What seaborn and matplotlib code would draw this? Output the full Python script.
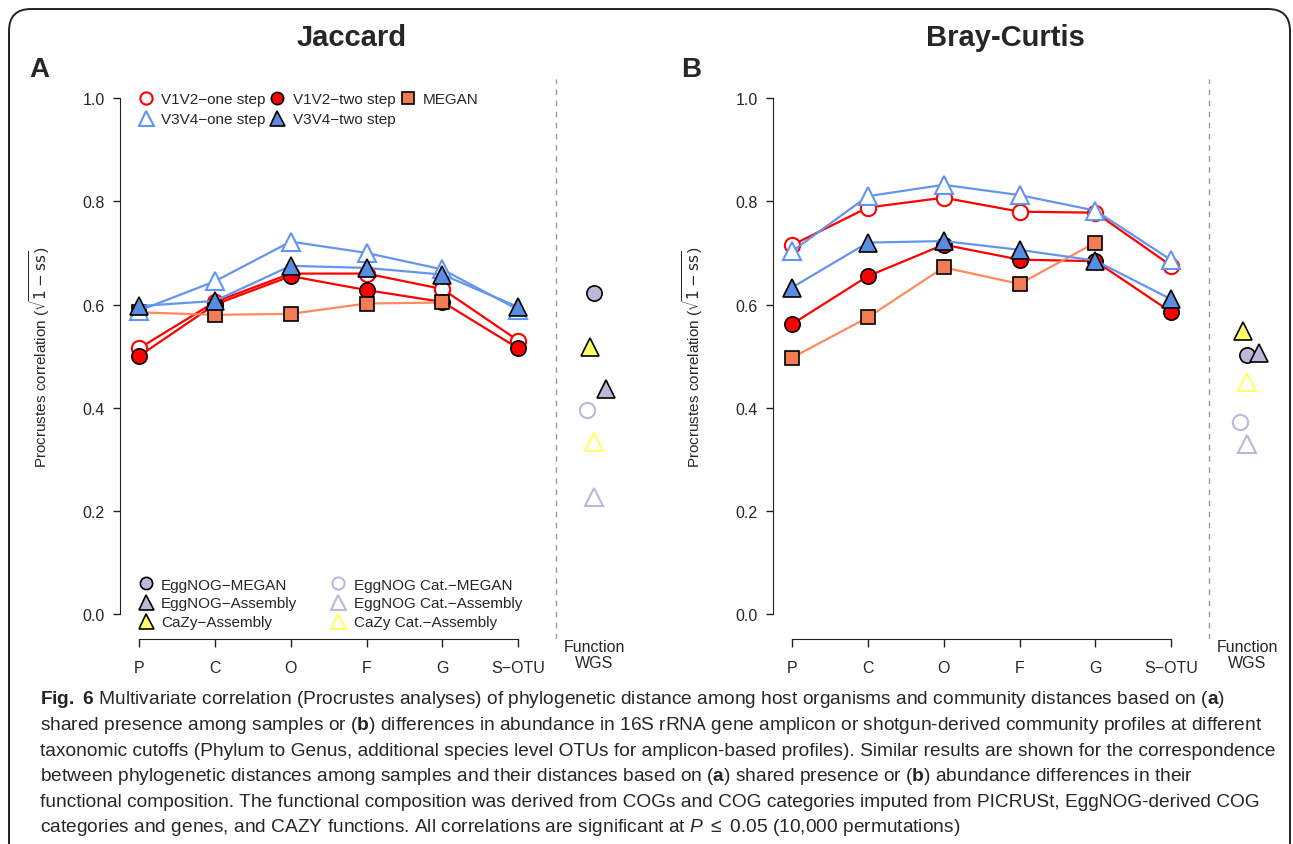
import numpy as np
import matplotlib
matplotlib.use('Agg')
import matplotlib.pyplot as plt
import seaborn as sns
from matplotlib.lines import Line2D
from matplotlib.patches import FancyBboxPatch
from matplotlib import font_manager

# taxonomic levels
levels = ['P', 'C', 'O', 'F', 'G', 'S\u2212OTU']

# Jaccard (panel A)
jac_v12_one = [0.515, 0.605, 0.660, 0.660, 0.630, 0.530]
jac_v12_two = [0.500, 0.600, 0.655, 0.628, 0.605, 0.515]
jac_megan = [0.585, 0.580, 0.582, 0.602, 0.604]
jac_v34_one = [0.588, 0.645, 0.722, 0.700, 0.668, 0.590]
jac_v34_two = [0.597, 0.607, 0.675, 0.671, 0.658, 0.595]

# Bray-Curtis (panel B)
bc_v12_one = [0.715, 0.788, 0.807, 0.780, 0.778, 0.675]
bc_v12_two = [0.562, 0.655, 0.716, 0.687, 0.684, 0.585]
bc_megan = [0.497, 0.575, 0.672, 0.640, 0.720]
bc_v34_one = [0.703, 0.810, 0.832, 0.812, 0.782, 0.686]
bc_v34_two = [0.633, 0.720, 0.723, 0.706, 0.685, 0.610]

# functional (WGS) correlations
func_names = ['EggNOG\u2212MEGAN', 'EggNOG\u2212Assembly', 'CaZy\u2212Assembly',
              'EggNOG Cat.\u2212MEGAN', 'EggNOG Cat.\u2212Assembly', 'CaZy Cat.\u2212Assembly']
jac_func = [0.622, 0.437, 0.517, 0.396, 0.228, 0.334]
bc_func = [0.503, 0.507, 0.549, 0.372, 0.330, 0.450]

caption = [
    r"$\mathbf{Fig.}$ $\mathbf{6}$ Multivariate correlation (Procrustes analyses) of phylogenetic distance among host organisms and community distances based on ($\mathbf{a}$)",
    r"shared presence among samples or ($\mathbf{b}$) differences in abundance in 16S rRNA gene amplicon or shotgun-derived community profiles at different",
    r"taxonomic cutoffs (Phylum to Genus, additional species level OTUs for amplicon-based profiles). Similar results are shown for the correspondence",
    r"between phylogenetic distances among samples and their distances based on ($\mathbf{a}$) shared presence or ($\mathbf{b}$) abundance differences in their",
    r"functional composition. The functional composition was derived from COGs and COG categories imputed from PICRUSt, EggNOG-derived COG",
    r"categories and genes, and CAZY functions. All correlations are significant at $P$ $\leq$ 0.05 (10,000 permutations)",
]

RED = '#FF0000'
BLUE = '#6495ED'
BLUE_F = '#5A8CE0'
CORAL = '#FF8A5C'
CORAL_F = '#F47C55'
LAV = '#BCB8D8'
YEL = '#FFFF66'

sns.set_style('ticks')
plt.rcParams['font.family'] = ['Liberation Sans', 'DejaVu Sans']
names = {f.name for f in font_manager.fontManager.ttflist}
cap_font = 'Liberation Sans Narrow' if 'Liberation Sans Narrow' in names else 'Liberation Sans'
plt.rcParams['mathtext.fontset'] = 'custom'
plt.rcParams['mathtext.rm'] = cap_font
plt.rcParams['mathtext.it'] = cap_font + ':italic'
plt.rcParams['mathtext.bf'] = cap_font + ':bold'

W, H = 1293, 845
fig = plt.figure(figsize=(W / 100, H / 100), dpi=100)

# rounded border
border = FancyBboxPatch((0.09, -0.3), 12.81, 8.35 + 0.3,
                        boxstyle='round,pad=0,rounding_size=0.22',
                        transform=fig.dpi_scale_trans, fill=False,
                        lw=1.4, ec='#222222')
fig.patches.append(border)

series_style = [
    dict(color=RED, marker='o', mfc='white', mec=RED, mew=1.5, ms=11, label='V1V2\u2212one step'),
    dict(color=RED, marker='o', mfc=RED, mec='black', mew=1.2, ms=11, label='V1V2\u2212two step'),
    dict(color=CORAL, marker='s', mfc=CORAL_F, mec='black', mew=1.2, ms=10, label='MEGAN'),
    dict(color=BLUE, marker='^', mfc='white', mec=BLUE, mew=1.5, ms=13.5, label='V3V4\u2212one step'),
    dict(color=BLUE, marker='^', mfc=BLUE_F, mec='black', mew=1.2, ms=13.5, label='V3V4\u2212two step'),
]
func_style = [
    dict(marker='o', mfc=LAV, mec='black', mew=1.2, ms=11),
    dict(marker='^', mfc=LAV, mec='black', mew=1.2, ms=13.5),
    dict(marker='^', mfc=YEL, mec='black', mew=1.2, ms=13.5),
    dict(marker='o', mfc='none', mec=LAV, mew=1.5, ms=11),
    dict(marker='^', mfc='none', mec=LAV, mew=1.5, ms=13.5),
    dict(marker='^', mfc='none', mec=YEL, mew=1.5, ms=13.5),
]
jit_a = [0.0, 0.15, -0.05, -0.10, 0.0, 0.0]
jit_b = [0.0, 0.15, -0.05, -0.10, 0.0, 0.0]


def panel(ax, series, func, jit, title, letter, tx, lx):
    xs = np.arange(len(levels))
    for vals, st in zip(series, series_style):
        st = dict(st)
        st.pop('label')
        sns.lineplot(x=xs[:len(vals)], y=vals, ax=ax, color=st.pop('color'),
                     linewidth=1.6, markersize=st.pop('ms'), markerfacecolor=st.pop('mfc'),
                     markeredgecolor=st.pop('mec'), markeredgewidth=st.pop('mew'),
                     marker=st.pop('marker'), legend=False, clip_on=False)
    wx = len(levels)
    for v, j, st in zip(func, jit, func_style):
        sns.lineplot(x=[wx + j], y=[v], ax=ax, linestyle='none', marker=st['marker'],
                     markersize=st['ms'], markerfacecolor=st['mfc'],
                     markeredgecolor=st['mec'], markeredgewidth=st['mew'],
                     legend=False, clip_on=False)
    ax.axvline(len(levels) - 0.5, color='#999999', ls=(0, (4, 4)), lw=1)
    ax.set_xlim(-0.25, 6.3)
    ax.set_ylim(-0.048, 1.037)
    for s in ['top', 'right']:
        ax.spines[s].set_visible(False)
    ax.spines['left'].set_bounds(0, 1)
    ax.spines['bottom'].set_bounds(0, len(levels) - 1)
    ax.spines['left'].set_color('#222222')
    ax.spines['bottom'].set_color('#222222')
    ax.set_yticks([0, 0.2, 0.4, 0.6, 0.8, 1.0])
    ax.set_yticklabels(['0.0', '0.2', '0.4', '0.6', '0.8', '1.0'])
    ax.set_xticks(xs)
    ax.set_xticklabels(levels)
    ax.tick_params(axis='y', length=5, width=1, pad=6, labelsize=11.5, color='#222222')
    ax.tick_params(axis='x', length=6, width=1, pad=9, labelsize=11.5, color='#222222')
    ax.text(wx, -0.078, 'Function\nWGS', ha='center', va='center', fontsize=11.5,
            linespacing=1.05, clip_on=False)
    ax.set_xlabel('')
    ax.set_ylabel(r'Procrustes correlation ($\sqrt{1-\mathrm{ss}}$)', fontsize=11,
                  math_fontfamily='dejavusans')
    ax.yaxis.set_label_coords(-0.137, 0.505)
    ax.set_facecolor('none')
    fig.text(tx / W, 1 - 38 / H, title, ha='center', va='center', fontsize=21, fontweight='bold')
    fig.text(lx / W, 1 - 70 / H, letter, ha='left', va='center', fontsize=20, fontweight='bold')


axA = fig.add_axes([120 / W, 1 - 640 / H, 497 / W, 560 / H])
axB = fig.add_axes([773 / W, 1 - 640 / H, 497 / W, 560 / H])
panel(axA, [jac_v12_one, jac_v12_two, jac_megan, jac_v34_one, jac_v34_two],
      jac_func, jit_a, 'Jaccard', 'A', 352, 29)
panel(axB, [bc_v12_one, bc_v12_two, bc_megan, bc_v34_one, bc_v34_two],
      bc_func, jit_b, 'Bray-Curtis', 'B', 1005, 681)


# legends (panel A only)
def handle(st, scale=0.8):
    return Line2D([], [], ls='none', marker=st['marker'], ms=st['ms'] * scale,
                  mfc=st['mfc'], mec=st['mec'], mew=st['mew'])


order = [0, 3, 1, 4, 2]
h1 = [handle(series_style[i]) for i in order]
l1 = [series_style[i]['label'] for i in order]
leg1 = axA.legend(h1, l1, loc='upper left', bbox_to_anchor=(0.036, 0.977), ncol=3,
                  frameon=False, fontsize=11, handlelength=1.0, handletextpad=0.5,
                  columnspacing=0.3, labelspacing=0.4, borderpad=0, borderaxespad=0)
axA.add_artist(leg1)
h2 = [handle(s) for s in func_style]
axA.legend(h2, func_names, loc='lower left', bbox_to_anchor=(0.036, 0.018), ncol=2,
           frameon=False, fontsize=11, handlelength=1.0, handletextpad=0.5,
           columnspacing=2.2, labelspacing=0.3, borderpad=0, borderaxespad=0)

# caption, scaled so the longest line spans the box
cap_texts = []
for i, line in enumerate(caption):
    cap_texts.append(fig.text(40 / W, 1 - (700 + 25.6 * i) / H, line, ha='left', va='center',
                              fontsize=13, family=cap_font, math_fontfamily='custom'))
fig.canvas.draw()
r = fig.canvas.get_renderer()
w3 = cap_texts[2].get_window_extent(r).width
for t in cap_texts:
    t.set_fontsize(13 * (1236 / w3))

fig.savefig('out.png', dpi=100)
